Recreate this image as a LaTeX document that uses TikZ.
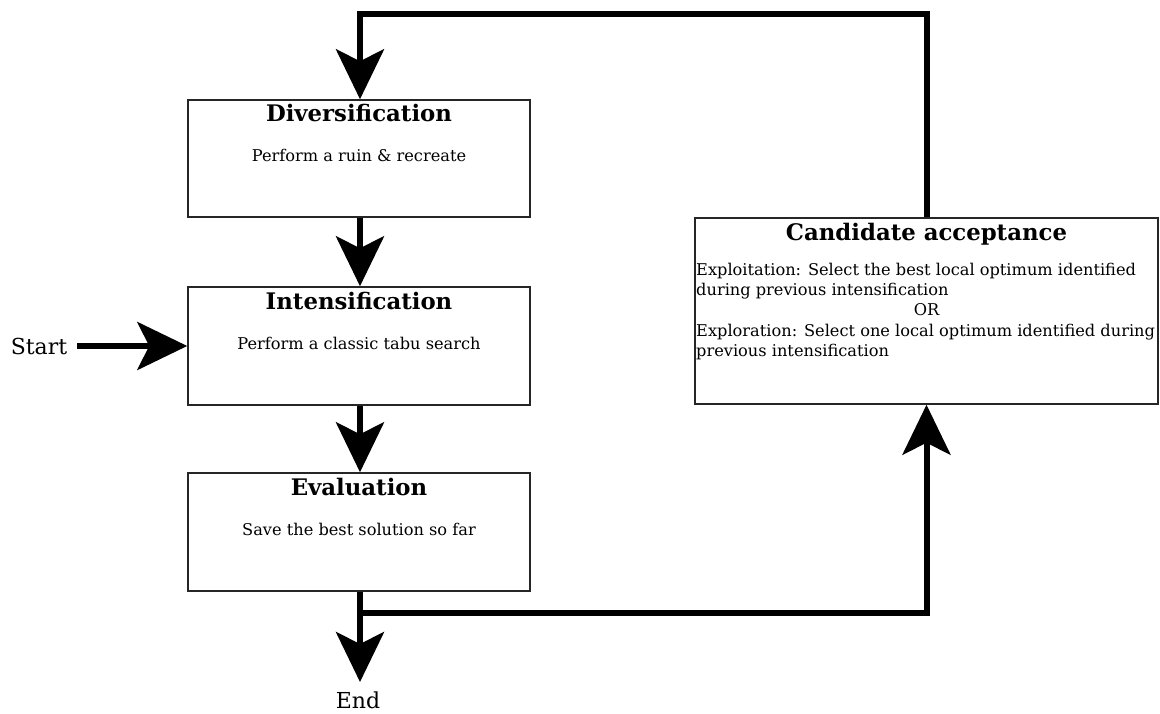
\documentclass[tikz,border=0pt]{standalone}
\usepackage{fontspec}
\setmainfont{DejaVu Serif}
\usetikzlibrary{arrows.meta,calc}
\begin{document}
\begin{tikzpicture}[x=1pt,y=-1pt,
  box/.style={draw=black!85,line width=1.5pt,rectangle,inner sep=0pt},
  ttl/.style={font=\fontsize{22.8}{26}\selectfont\bfseries,anchor=base,inner sep=0pt},
  body/.style={font=\fontsize{16.2}{20}\selectfont,anchor=base,inner sep=0pt},
  big/.style={font=\fontsize{22}{26}\selectfont,anchor=base,inner sep=0pt},
  conn/.style={line width=6pt},
  arr/.style={conn,-{Stealth[length=50pt,width=48pt,inset=12pt]}}]
\useasboundingbox (0,0) rectangle (1160,714);
% boxes
\node[box,minimum width=342pt,minimum height=117pt] (div) at (359,158.5) {};
\node[box,minimum width=342pt,minimum height=118pt] (int) at (359,346) {};
\node[box,minimum width=342pt,minimum height=118pt] (eval) at (359,532) {};
\node[box,minimum width=463pt,minimum height=186pt] (cand) at (926.5,311) {};
% texts
\node[ttl] (divt) at (359,122) {Diversification};
\node[body] (divb) at (359,162) {Perform a ruin \& recreate};
\node[ttl] (intt) at (359,309) {Intensification};
\node[body] (intb) at (359,349) {Perform a classic tabu search};
\node[ttl] (evalt) at (359,495) {Evaluation};
\node[body] (evalb) at (359,535) {Save the best solution so far};
\node[ttl] (candt) at (926.5,241) {Candidate acceptance};
\node[body,anchor=base west] (c1) at (696,276) {Exploitation: Select the best local optimum identified};
\node[body,anchor=base west] (c2) at (696,296) {during previous intensification};
\node[body] (c3) at (926.5,316) {OR};
\node[body,anchor=base west] (c4) at (696,336) {Exploration: Select one local optimum identified during};
\node[body,anchor=base west] (c5) at (696,356) {previous intensification};
\node[big] (start) at (39,354) {Start};
\node[big] (endn) at (358,708) {End};
% coordinates
\coordinate (loop) at (360,14);
\coordinate (br) at (360,613);
\coordinate (endtip) at (360,682);
\coordinate (startx) at (77,346);
% connectors
\draw[arr] (cand.north) |- (loop) -- (div.north -| loop);
\draw[arr] (div.south -| loop) -- (int.north -| loop);
\draw[arr] (int.south -| loop) -- (eval.north -| loop);
\draw[arr] (eval.south -| loop) -- (endtip);
\draw[arr] (br) -| (cand.south);
\draw[arr] (startx) -- (int.west |- startx);
\end{tikzpicture}
\end{document}
